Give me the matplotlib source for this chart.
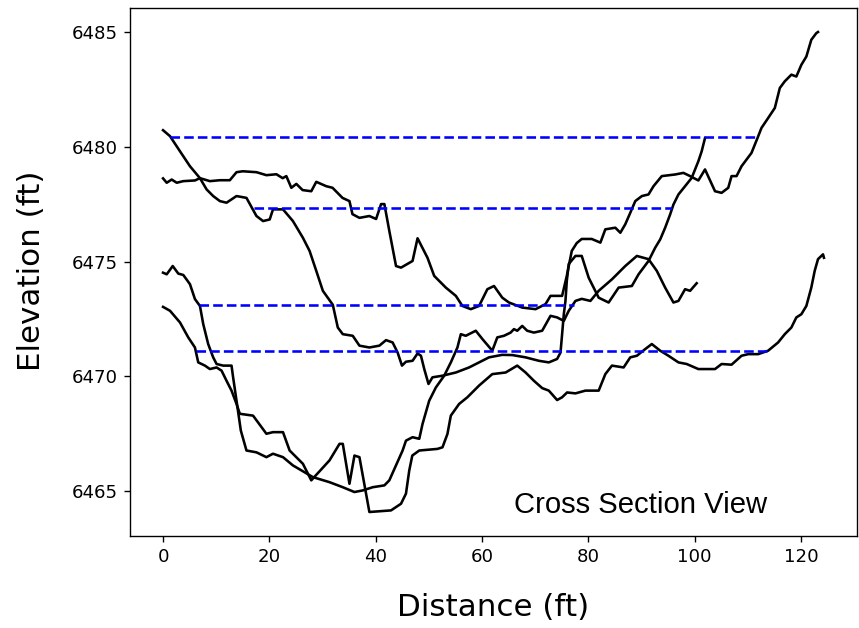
import matplotlib
matplotlib.use('Agg')
import matplotlib.pyplot as plt

# surveyed cross sections: (distance ft, elevation ft)
section_a = [(0.0, 6480.73), (1.31, 6480.47), (3.19, 6479.81), (5.06, 6479.16), (6.94, 6478.64),
             (8.81, 6478.51), (10.69, 6478.55), (12.56, 6478.55), (13.82, 6478.90), (15.0, 6478.94),
             (17.57, 6478.90), (19.44, 6478.77), (21.32, 6478.81), (22.5, 6478.64), (23.19, 6478.73),
             (24.13, 6478.22), (25.07, 6478.39), (26.25, 6478.12), (27.88, 6478.07), (28.82, 6478.48),
             (30.69, 6478.29), (31.88, 6478.22), (33.75, 6477.78), (35.06, 6477.64), (35.63, 6477.07),
             (36.94, 6476.91), (38.81, 6476.99), (40.07, 6476.86), (41.01, 6477.51), (41.63, 6477.51),
             (42.56, 6476.34), (43.82, 6474.81), (44.76, 6474.74), (46.93, 6475.03), (47.87, 6476.02),
             (49.74, 6475.17), (51.0, 6474.38), (53.19, 6473.87), (55.07, 6473.51), (56.31, 6473.07),
             (57.88, 6472.93), (59.44, 6473.07), (61.0, 6473.80), (62.25, 6473.94), (63.81, 6473.43),
             (65.06, 6473.22), (67.56, 6473.00), (70.07, 6472.93), (71.94, 6473.15), (72.88, 6473.51),
             (75.06, 6473.51), (75.94, 6474.38), (76.88, 6475.47), (77.81, 6475.81), (78.75, 6475.99),
             (80.63, 6475.99), (82.26, 6475.83), (83.19, 6476.41), (85.07, 6476.48), (86.01, 6476.26),
             (86.94, 6476.63), (87.88, 6477.13), (88.82, 6477.64), (90.06, 6477.86), (91.31, 6477.93),
             (92.25, 6478.29), (93.81, 6478.73), (96.32, 6478.80), (97.88, 6478.87), (99.13, 6478.73),
             (100.69, 6478.54), (101.94, 6479.02), (103.82, 6478.07), (105.06, 6478.00), (106.31, 6478.22),
             (106.93, 6478.73), (107.87, 6478.73), (108.81, 6479.16), (110.68, 6479.74), (111.81, 6480.39),
             (112.56, 6480.83), (113.81, 6481.26), (115.07, 6481.70), (116.01, 6482.57), (116.94, 6482.86),
             (118.18, 6483.15), (119.12, 6483.07), (120.06, 6483.58), (121.0, 6483.94), (121.93, 6484.67),
             (122.87, 6484.96), (123.19, 6485.01)]

section_b = [(0.0, 6478.63), (0.69, 6478.44), (1.63, 6478.58), (2.57, 6478.44), (3.81, 6478.51),
             (6.0, 6478.54), (6.94, 6478.64), (8.19, 6478.15), (9.43, 6477.86), (10.69, 6477.64),
             (11.94, 6477.57), (13.82, 6477.86), (15.69, 6477.78), (17.57, 6476.99), (18.81, 6476.77),
             (20.06, 6476.84), (20.68, 6477.28), (22.56, 6477.28), (24.43, 6476.77), (26.31, 6476.04),
             (27.56, 6475.47), (28.82, 6474.60), (30.06, 6473.73), (31.93, 6473.12), (32.87, 6472.13),
             (33.81, 6471.84), (35.68, 6471.77), (36.94, 6471.34), (38.81, 6471.26), (40.69, 6471.34),
             (41.94, 6471.58), (43.18, 6471.48), (44.12, 6471.04), (44.94, 6470.47), (45.69, 6470.64),
             (46.93, 6470.68), (47.87, 6471.00), (48.51, 6470.90), (49.13, 6470.32), (49.93, 6469.67),
             (50.68, 6469.96), (52.56, 6470.03), (55.07, 6470.17), (57.56, 6470.39), (59.44, 6470.61),
             (61.31, 6470.83), (63.81, 6470.94), (65.68, 6470.93), (68.19, 6470.83), (70.69, 6470.68),
             (72.56, 6470.61), (74.12, 6470.76), (74.76, 6471.04), (75.06, 6471.84), (75.38, 6472.71),
             (75.69, 6473.29), (75.94, 6474.16), (76.31, 6474.90), (77.57, 6475.25), (78.75, 6475.25),
             (80.06, 6474.30), (81.94, 6473.43), (83.81, 6473.22), (85.69, 6473.87), (88.18, 6473.94),
             (89.44, 6474.45), (91.31, 6475.03), (92.57, 6475.61), (93.51, 6475.97), (94.44, 6476.48),
             (95.38, 6477.06), (96.0, 6477.49), (96.94, 6477.93), (98.19, 6478.29), (99.43, 6478.65),
             (100.69, 6479.38), (101.31, 6479.81), (101.94, 6480.39)]

section_c = [(0.0, 6474.52), (0.69, 6474.45), (1.82, 6474.81), (2.87, 6474.48), (3.81, 6474.42),
             (5.06, 6474.02), (6.0, 6473.37), (6.94, 6473.07), (7.56, 6472.28), (8.49, 6471.41),
             (9.43, 6470.83), (10.07, 6470.54), (11.31, 6470.47), (12.88, 6470.47), (13.18, 6469.96),
             (13.82, 6468.94), (14.63, 6467.64), (15.69, 6466.77), (17.57, 6466.69), (19.44, 6466.48),
             (20.68, 6466.63), (22.56, 6466.48), (24.43, 6466.12), (28.18, 6465.61), (31.31, 6465.39),
             (33.81, 6465.17), (36.0, 6464.96), (37.56, 6465.03), (39.43, 6465.17), (41.63, 6465.25),
             (42.56, 6465.47), (45.06, 6466.77), (45.69, 6467.20), (46.93, 6467.35), (48.19, 6467.28),
             (48.81, 6467.93), (50.06, 6468.94), (51.32, 6469.52), (52.88, 6470.03), (54.13, 6470.61),
             (55.37, 6471.26), (56.01, 6471.84), (56.94, 6471.77), (58.82, 6471.99), (60.06, 6471.63),
             (61.93, 6471.12), (62.87, 6471.70), (64.13, 6471.77), (65.38, 6471.91), (66.0, 6472.06),
             (66.62, 6471.99), (67.56, 6472.20), (68.49, 6471.99), (69.75, 6471.91), (71.31, 6471.99),
             (72.88, 6472.64), (74.12, 6472.57), (75.38, 6472.42), (76.31, 6472.86), (77.57, 6473.29),
             (78.75, 6473.38), (80.38, 6473.29), (81.94, 6473.73), (84.43, 6474.23), (86.94, 6474.81),
             (89.12, 6475.25), (91.31, 6475.11), (92.87, 6474.60), (94.44, 6473.87), (96.0, 6473.22),
             (96.94, 6473.29), (98.19, 6473.80), (99.13, 6473.73), (100.37, 6474.06)]

section_d = [(0.0, 6473.03), (1.31, 6472.86), (3.19, 6472.35), (4.74, 6471.70), (6.0, 6471.26),
             (6.62, 6470.61), (7.88, 6470.47), (8.81, 6470.32), (10.07, 6470.39), (11.01, 6470.25),
             (11.94, 6469.81), (12.88, 6469.38), (13.82, 6468.80), (14.44, 6468.37), (16.93, 6468.29),
             (19.44, 6467.50), (20.68, 6467.57), (22.56, 6467.57), (23.81, 6466.77), (26.31, 6466.19),
             (27.88, 6465.47), (31.31, 6466.34), (33.19, 6467.06), (33.81, 6467.06), (35.06, 6465.32),
             (36.0, 6466.55), (36.94, 6466.48), (38.81, 6464.09), (42.88, 6464.16), (44.76, 6464.45),
             (45.69, 6464.89), (46.31, 6465.90), (46.88, 6466.55), (48.19, 6466.77), (51.62, 6466.84),
             (52.56, 6466.91), (53.49, 6467.49), (54.13, 6468.29), (55.69, 6468.80), (57.24, 6469.09),
             (59.44, 6469.60), (61.93, 6470.10), (64.44, 6470.17), (66.62, 6470.47), (68.19, 6470.17),
             (69.75, 6469.81), (71.31, 6469.49), (72.56, 6469.38), (74.12, 6468.97), (75.06, 6469.09),
             (76.0, 6469.30), (77.57, 6469.26), (79.44, 6469.38), (81.94, 6469.38), (83.19, 6470.10),
             (84.43, 6470.47), (86.63, 6470.39), (87.88, 6470.83), (89.12, 6470.90), (90.69, 6471.19),
             (91.93, 6471.41), (93.51, 6471.12), (95.06, 6470.90), (96.94, 6470.61), (98.49, 6470.54),
             (100.69, 6470.32), (103.82, 6470.32), (105.06, 6470.54), (106.93, 6470.51), (108.81, 6470.90),
             (110.06, 6470.97), (111.94, 6470.97), (113.81, 6471.12), (115.69, 6471.48), (116.94, 6471.84),
             (118.18, 6472.13), (119.12, 6472.57), (120.06, 6472.71), (121.0, 6473.07), (121.93, 6473.87),
             (122.57, 6474.60), (123.19, 6475.11), (124.13, 6475.32), (124.31, 6475.17)]

# water surface per section: elevation, left edge, right edge
ws_elev = [6480.45, 6477.36, 6473.10, 6471.12]
ws_left = [1.31, 17.06, 6.75, 6.13]
ws_right = [111.75, 95.81, 77.25, 113.81]

dpi = 124
fig = plt.figure(figsize=(859 / dpi, 628 / dpi), dpi=dpi)
ax = fig.add_axes([130 / 859, 92 / 628, 727 / 859, 528 / 628])

for sec in [section_a, section_b, section_c, section_d]:
    dist = [p[0] for p in sec]
    elev = [p[1] for p in sec]
    ax.plot(dist, elev, color='black', lw=1.5)

for w, l, r in zip(ws_elev, ws_left, ws_right):
    ax.plot([l, r], [w, w], 'b--', lw=1.5)

ax.tick_params(labelsize=10.5)

ax.text(0.528, 0.044, 'Cross Section View', transform=ax.transAxes,
        fontsize=17, family='Liberation Sans', ha='left', va='baseline')

fig.text(32 / 859, 1 - 271 / 628, 'Elevation (ft)', rotation=90, fontsize=18,
         ha='center', va='center')
fig.text(493.5 / 859, 1 - 608 / 628, 'Distance (ft)', fontsize=18,
         ha='center', va='center')

fig.savefig('out.png', dpi=dpi)
